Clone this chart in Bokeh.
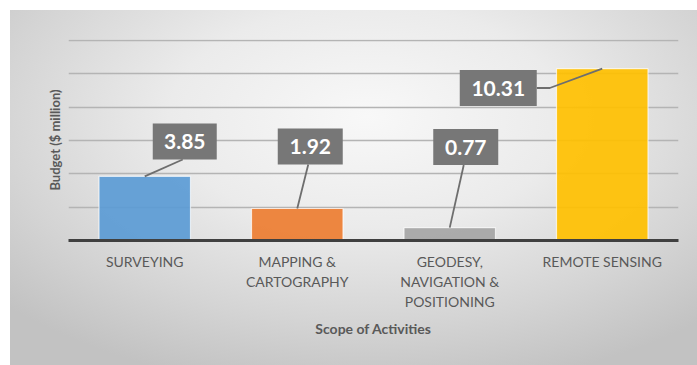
from bokeh.plotting import figure
from bokeh.models import Range1d, FixedTicker, ColumnDataSource
from bokeh.core.properties import value
from bokeh.embed import file_html
from bokeh.resources import INLINE

# ---- data ----
categories = ["SURVEYING", "MAPPING &\nCARTOGRAPHY", "GEODESY,\nNAVIGATION &\nPOSITIONING", "REMOTE SENSING"]
budget = [3.85, 1.92, 0.77, 10.31]
bar_colors = ["#5b9bd5", "#ed7d31", "#a5a5a5", "#ffc000"]
grid_ticks = [2, 4, 6, 8, 10, 12]

# ---- layout ----
W, H = 697, 365
LEFT, RIGHT, TOP, BOTTOM = 68, 19, 39, 125
Y_MAX = 12.06
frame_w = W - LEFT - RIGHT
frame_h = H - TOP - BOTTOM
px_x = len(categories) / frame_w      # data units per pixel (x)
px_y = Y_MAX / frame_h                # data units per pixel (y)

xs = [i + 0.5 for i in range(len(categories))]

# callout boxes: centre offset from bar centre (px) and centre height (data)
label_dx_px = [40, 13, 16, -104]
label_y = [5.94, 5.64, 5.61, 9.15]
box_w_px = [64, 65, 65, 77]
box_h_px = 36

p = figure(width=W, height=H, output_backend="svg", toolbar_location=None,
           x_range=Range1d(0, len(categories)), y_range=Range1d(0, Y_MAX),
           min_border_left=LEFT, min_border_right=RIGHT,
           min_border_top=TOP, min_border_bottom=BOTTOM)
p.outline_line_color = None
p.background_fill_alpha = 0
p.border_fill_alpha = 0
p.styles = {
    "background": "radial-gradient(ellipse 72% 78% at 52% 30%, #f8f8f8 0%, #ebebeb 40%, #d4d4d4 75%, #c2c2c2 100%) "
                  "10px 10px / 687px 355px no-repeat, #ffffff",
}

# grid
p.xgrid.visible = False
p.ygrid.ticker = FixedTicker(ticks=grid_ticks)
p.ygrid.grid_line_color = "#b4b4b4"
p.ygrid.grid_line_width = 1.5

# bars
src = ColumnDataSource(dict(x=xs, top=budget, color=bar_colors))
p.vbar(x="x", top="top", width=0.6, bottom=0, source=src,
       fill_color="color", fill_alpha=0.92,
       line_color="#ffffff", line_alpha=0.7, line_width=1.2)

# x axis
p.xaxis.ticker = FixedTicker(ticks=xs)
p.xaxis.major_label_overrides = {x: c for x, c in zip(xs, categories)}
p.xaxis.major_tick_line_color = None
p.xaxis.minor_tick_line_color = None
p.xaxis.axis_line_color = "#404040"
p.xaxis.axis_line_width = 3
p.xaxis.major_label_text_font = "Lato"
p.xaxis.major_label_text_font_size = "14px"
p.xaxis.major_label_text_color = "#595959"
p.xaxis.major_label_text_line_height = 1.2
p.xaxis.major_label_standoff = 6
p.xaxis.axis_label = "Scope of Activities"
p.xaxis.axis_label_text_font = "Lato"
p.xaxis.axis_label_text_font_size = "14px"
p.xaxis.axis_label_text_font_style = "bold"
p.xaxis.axis_label_text_color = "#595959"
p.xaxis.axis_label_standoff = 7

# y axis: title only
p.yaxis.ticker = FixedTicker(ticks=[])
p.yaxis.major_tick_line_color = None
p.yaxis.minor_tick_line_color = None
p.yaxis.axis_line_color = None
p.yaxis.axis_label = "Budget ($ million)"
p.yaxis.axis_label_text_font = "Lato"
p.yaxis.axis_label_text_font_size = "13px"
p.yaxis.axis_label_text_font_style = "bold"
p.yaxis.axis_label_text_color = "#595959"
p.yaxis.axis_label_standoff = 6

# callouts
lx = [x + dx * px_x for x, dx in zip(xs, label_dx_px)]
half_h = box_h_px / 2 * px_y
leader_xs, leader_ys = [], []
for i in range(len(budget)):
    if lx[i] < xs[i] - 0.3:
        # box sits left of the bar: leave from its right edge with a short elbow
        x0 = lx[i] + box_w_px[i] / 2 * px_x
        leader_xs.append([x0, x0 + 13 * px_x, xs[i]])
        leader_ys.append([label_y[i], label_y[i], budget[i]])
    else:
        leader_xs.append([lx[i] - 2 * px_x, xs[i]])
        leader_ys.append([label_y[i] - half_h, budget[i]])
p.multi_line(xs=leader_xs, ys=leader_ys, line_color="#6e6e6e", line_width=1.8)

p.rect(x=lx, y=label_y, width=box_w_px, height=box_h_px,
       width_units="screen", height_units="screen",
       fill_color="#777777", line_color=None)
p.text(x=lx, y=label_y, text=[f"{v:.2f}" for v in budget],
       text_font=value("Lato"), text_font_style="bold", text_font_size="21px",
       text_color="#ffffff", text_align="center", text_baseline="middle")

open("out.html", "w").write(file_html(p, INLINE))
